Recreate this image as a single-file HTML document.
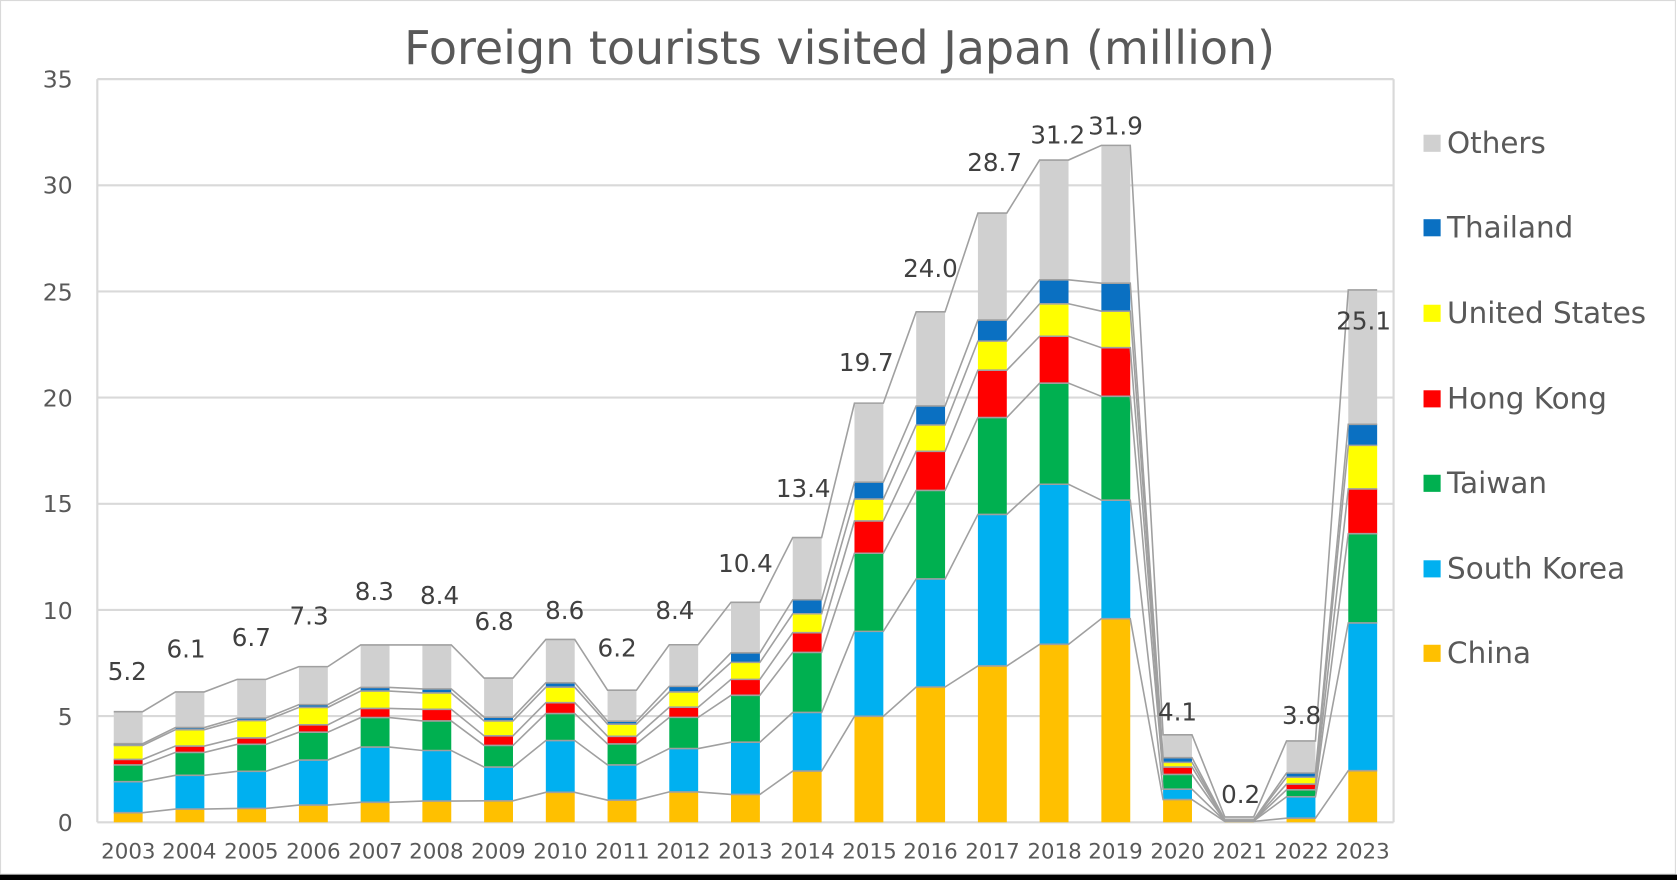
<!DOCTYPE html>
<html><head><meta charset="utf-8"><style>
html,body{margin:0;padding:0;background:#fff;}
svg{display:block;}
text{font-family:"DejaVu Sans","Liberation Sans",sans-serif;}
</style></head><body>
<svg id="c" width="1677" height="880" viewBox="0 0 1568 823" preserveAspectRatio="none" xmlns="http://www.w3.org/2000/svg">
<rect x="0" y="0" width="1568" height="823" fill="#fff"/>
<rect x="0.5" y="0.5" width="1566" height="817" fill="none" stroke="#d9d9d9" stroke-width="1"/>
<g id="grid"></g>
<g id="bars"></g>
<g id="lines"></g>
<text x="785" y="60" font-size="43" fill="#595959" text-anchor="middle">Foreign tourists visited Japan (million)</text>
<g font-size="22" fill="#595959" text-anchor="end">
<text x="68" y="777">0</text><text x="68" y="678">5</text><text x="68" y="579">10</text><text x="68" y="479">15</text><text x="68" y="380">20</text><text x="68" y="281">25</text><text x="68" y="181">30</text><text x="68" y="82">35</text>
</g>
<g font-size="20" fill="#595959" text-anchor="middle">
<text x="120" y="803">2003</text><text x="177" y="803">2004</text><text x="235" y="803">2005</text><text x="293" y="803">2006</text><text x="351" y="803">2007</text><text x="408" y="803">2008</text><text x="466" y="803">2009</text><text x="524" y="803">2010</text><text x="582" y="803">2011</text><text x="639" y="803">2012</text><text x="697" y="803">2013</text><text x="755" y="803">2014</text><text x="813" y="803">2015</text><text x="870" y="803">2016</text><text x="928" y="803">2017</text><text x="986" y="803">2018</text><text x="1043" y="803">2019</text><text x="1101" y="803">2020</text><text x="1159" y="803">2021</text><text x="1217" y="803">2022</text><text x="1274" y="803">2023</text>
</g>
<g font-size="23" fill="#404040" text-anchor="middle">
<text x="119" y="636">5.2</text><text x="174" y="615">6.1</text><text x="235" y="604">6.7</text><text x="289" y="584">7.3</text><text x="350" y="561">8.3</text><text x="411" y="565">8.4</text><text x="462" y="589">6.8</text><text x="528" y="579">8.6</text><text x="577" y="614">6.2</text><text x="631" y="579">8.4</text><text x="697" y="535">10.4</text><text x="751" y="465">13.4</text><text x="810" y="347">19.7</text><text x="870" y="259">24.0</text><text x="930" y="160">28.7</text><text x="989" y="134">31.2</text><text x="1043" y="126">31.9</text><text x="1101" y="674">4.1</text><text x="1160" y="751">0.2</text><text x="1217" y="677">3.8</text><text x="1275" y="308">25.1</text>
</g>
<g font-size="27.5" fill="#595959">
<rect x="1331" y="126" width="16" height="16" fill="#d0d0d0"/><text x="1353" y="143">Others</text>
<rect x="1331" y="205" width="16" height="16" fill="#0a70c2"/><text x="1353" y="222">Thailand</text>
<rect x="1331" y="285" width="16" height="16" fill="#ffff00"/><text x="1353" y="302">United States</text>
<rect x="1331" y="365" width="16" height="16" fill="#ff0000"/><text x="1353" y="382">Hong Kong</text>
<rect x="1331" y="444" width="16" height="16" fill="#00b050"/><text x="1353" y="461">Taiwan</text>
<rect x="1331" y="524" width="16" height="16" fill="#00b0f0"/><text x="1353" y="541">South Korea</text>
<rect x="1331" y="603" width="16" height="16" fill="#ffc000"/><text x="1353" y="620">China</text>
</g>
<rect x="0" y="818" width="1568" height="5" fill="#000"/>
</svg>
<script>
var D=[[0.45,1.46,0.79,0.26,0.66,0.08,5.21],[0.62,1.59,1.08,0.30,0.77,0.10,6.14],[0.65,1.75,1.27,0.30,0.82,0.12,6.73],[0.81,2.12,1.31,0.35,0.82,0.13,7.33],[0.94,2.60,1.39,0.43,0.82,0.17,8.35],[1.00,2.38,1.39,0.55,0.77,0.19,8.35],[1.01,1.59,1.02,0.45,0.70,0.18,6.79],[1.41,2.44,1.27,0.51,0.73,0.21,8.61],[1.04,1.66,0.99,0.36,0.57,0.14,6.22],[1.43,2.04,1.47,0.48,0.72,0.26,8.36],[1.31,2.46,2.21,0.75,0.80,0.45,10.36],[2.41,2.76,2.83,0.93,0.89,0.66,13.41],[4.99,4.00,3.68,1.52,1.03,0.80,19.74],[6.37,5.09,4.17,1.84,1.24,0.90,24.04],[7.36,7.14,4.56,2.23,1.37,0.99,28.69],[8.38,7.54,4.76,2.21,1.53,1.13,31.19],[9.59,5.58,4.89,2.29,1.72,1.32,31.88],[1.07,0.49,0.69,0.35,0.22,0.22,4.12],[0.04,0.02,0.01,0.01,0.02,0.01,0.25],[0.19,1.01,0.33,0.27,0.32,0.20,3.83],[2.43,6.96,4.20,2.11,2.05,0.99,25.07]];
var C=["#ffc000","#00b0f0","#00b050","#ff0000","#ffff00","#0a70c2","#d0d0d0"];
var NS="http://www.w3.org/2000/svg",L=91,R=1303,T=74,B=769,u=(B-T)/35,cw=(R-L)/21,bw=27;
function el(t,a,p){var e=document.createElementNS(NS,t);for(var k in a)e.setAttribute(k,a[k]);document.getElementById(p).appendChild(e);}
for(var g=0;g<=7;g++){var y=B-g*5*u;el("line",{x1:L,x2:R,y1:y,y2:y,stroke:"#d9d9d9","stroke-width":2},"grid");}
el("line",{x1:L,x2:L,y1:T,y2:B,stroke:"#d9d9d9","stroke-width":2},"grid");
el("line",{x1:R,x2:R,y1:T,y2:B,stroke:"#d9d9d9","stroke-width":2},"grid");
var tops=[];
D.forEach(function(d,i){var cx=L+cw*(i+0.5),x=cx-bw/2,acc=0,t=[];
 for(var s=0;s<7;s++){var v=s<6?d[s]:Math.max(0,d[6]-acc);var y0=B-acc*u;acc+=v;var y1=B-acc*u;
  el("rect",{x:x,y:y1,width:bw,height:Math.max(0,y0-y1),fill:C[s]},"bars");t.push(y1);}
 tops.push({x:x,t:t});});
for(var s=0;s<7;s++){var pts=[];tops.forEach(function(b){pts.push(b.x+","+b.t[s]);pts.push((b.x+bw)+","+b.t[s]);});
 el("polyline",{points:pts.join(" "),fill:"none",stroke:"#a0a0a0","stroke-width":1.5},"lines");}
</script>
</body></html>
